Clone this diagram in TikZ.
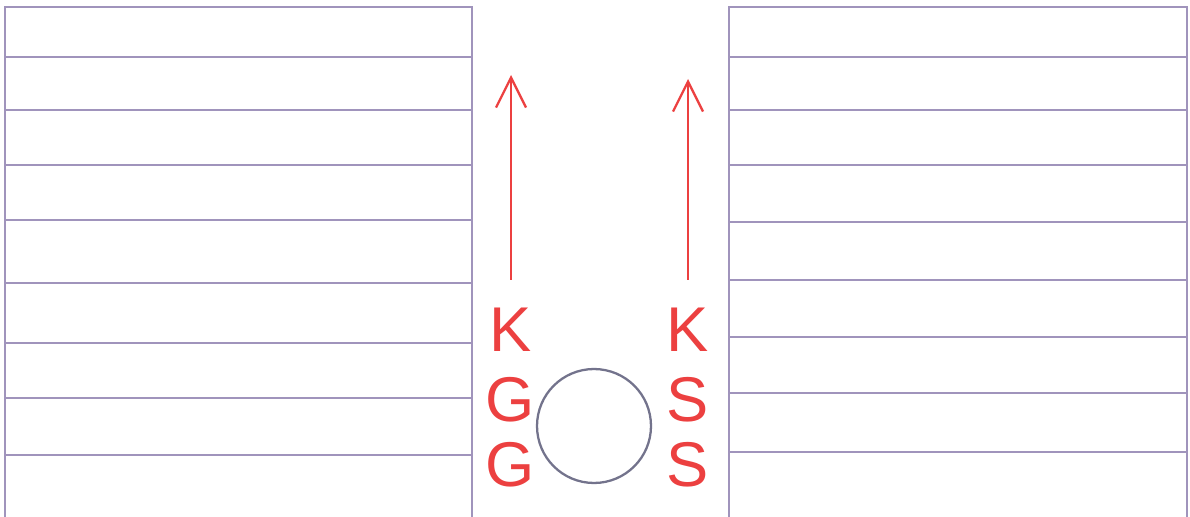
\documentclass[tikz,border=0pt]{standalone}
\usepackage{fontspec}
\setmainfont{Liberation Sans}
\usetikzlibrary{arrows.meta}
\definecolor{pen}{RGB}{236,64,64}
\definecolor{ink}{RGB}{160,148,188}
\begin{document}
\begin{tikzpicture}[
  x=0.02cm,y=-0.02cm,
  block/.style={draw=ink,line width=1.2pt},
  stripe/.style={ink,line width=1pt},
  letter/.style={pen,font=\fontsize{36}{36}\selectfont,inner sep=0pt},
  push/.style={-{Straight Barb[length=6mm,width=6mm]},pen,line width=1.3pt,shorten <=16pt},
  hole/.style={draw=gray!90!blue,line width=1.3pt,circle,minimum size=2.28cm,inner sep=0pt}
]
  \useasboundingbox (0,0) rectangle (1190,517);

  % the two blocks
  \draw[block] (5,518) -- (5,7) -- (472,7) -- (472,518);
  \draw[block] (729,518) -- (729,7) -- (1187,7) -- (1187,518);
  \foreach \y in {57,110,165,220,283,343,398,455}{
    \draw[stripe] (5,\y) -- (472,\y);
  }
  \foreach \y in {57,110,165,222,280,337,393,452}{
    \draw[stripe] (729,\y) -- (1187,\y);
  }

  % labels
  \node[letter] (kL) at (511,330) {K};
  \node[letter] (gA) at (510,400) {G};
  \node[letter] (gB) at (510,465) {G};
  \node[letter] (kR) at (688,330) {K};
  \node[letter] (sA) at (688,400) {S};
  \node[letter] (sB) at (688,465) {S};

  % the gap
  \node[hole] (ball) at (594,426) {};

  % arrows
  \coordinate (tipL) at (511,75);
  \coordinate (tipR) at (688,79);
  \draw[push] (kL.north) -- (tipL);
  \draw[push] (kR.north) -- (tipR);
\end{tikzpicture}
\end{document}
